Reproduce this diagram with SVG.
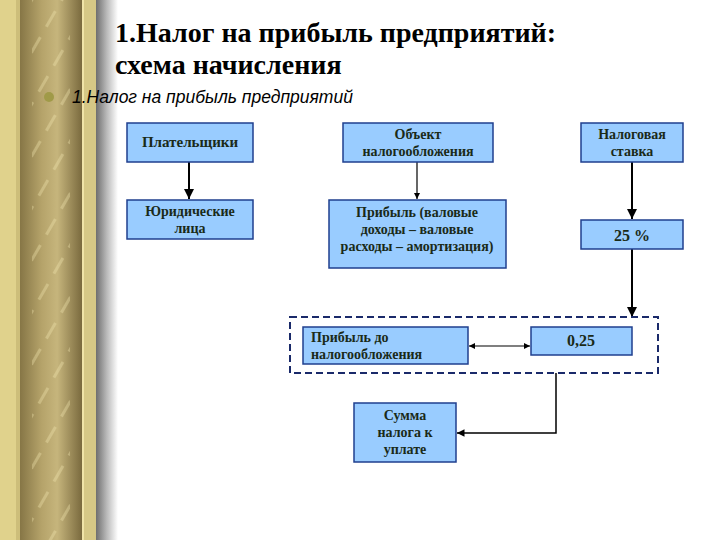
<svg xmlns="http://www.w3.org/2000/svg" width="720" height="540" viewBox="0 0 720 540">
<defs>
<style>
.box{fill:#99CCFF;stroke:#1F3F8F;stroke-width:1.5}
.c{stroke:#000;fill:none}
</style>
<linearGradient id="rod" x1="0" y1="0" x2="1" y2="0">
<stop offset="0" stop-color="#867646"/>
<stop offset="0.35" stop-color="#B5A36A"/>
<stop offset="0.6" stop-color="#C6B57C"/>
<stop offset="1" stop-color="#7A6A3E"/>
</linearGradient>
<linearGradient id="shadow" x1="0" y1="0" x2="1" y2="0">
<stop offset="0" stop-color="#6E6E6E"/>
<stop offset="0.5" stop-color="#BBBBBB"/>
<stop offset="1" stop-color="#FFFFFF"/>
</linearGradient>
<pattern id="streak" width="30" height="26" patternUnits="userSpaceOnUse" patternTransform="rotate(-60)">
<rect x="0" y="0" width="18" height="3" fill="#F4E6B0" opacity="0.35"/>
</pattern>
<marker id="ah" viewBox="0 0 10 10" refX="10" refY="5" markerWidth="5" markerHeight="5" orient="auto-start-reverse">
<path d="M0,0 L10,5 L0,10 z" fill="#000"/>
</marker>
</defs>
<rect width="720" height="540" fill="#FFFFFF"/>
<g id="border">
<rect x="0" y="0" width="96" height="540" fill="#E0D28C"/>
<rect x="16" y="0" width="4" height="540" fill="#CDBE7A"/>
<rect x="20" y="0" width="62" height="540" fill="url(#rod)"/>
<rect x="32" y="0" width="38" height="540" fill="url(#streak)"/>
<rect x="82" y="0" width="2" height="540" fill="#F0E4A8"/>
<rect x="84" y="0" width="12" height="540" fill="#D6C886"/>
<rect x="96" y="0" width="22" height="540" fill="url(#shadow)"/>
</g>
<g id="title" font-family="'Liberation Serif',serif" font-weight="bold" font-size="28" fill="#000">
<text x="115" y="42">1.Налог на прибыль предприятий:</text>
<text x="115" y="74">схема начисления</text>
</g>
<g id="subtitle">
<circle cx="49" cy="97" r="5" fill="#A09A48"/>
<text x="72" y="103" font-family="'Liberation Sans',sans-serif" font-style="italic" font-size="17.5" fill="#000">1.Налог на прибыль предприятий</text>
</g>
<g id="connectors">
<line class="c" x1="189" y1="162" x2="189" y2="199" stroke-width="2" marker-end="url(#ah)"/>
<line class="c" x1="417" y1="162" x2="417" y2="199" stroke-width="1.2" marker-end="url(#ah)"/>
<line class="c" x1="632" y1="162" x2="632" y2="219" stroke-width="2" marker-end="url(#ah)"/>
<line class="c" x1="632" y1="249" x2="632" y2="317" stroke-width="2" marker-end="url(#ah)"/>
<line class="c" x1="469" y1="346" x2="530" y2="346" stroke-width="1.2" marker-start="url(#ah)" marker-end="url(#ah)"/>
<polyline class="c" points="556,373 556,433 457,433" stroke-width="1.5" marker-end="url(#ah)"/>
</g>
<g id="group-box">
<rect x="290" y="317" width="368" height="56" fill="none" stroke="#1A2A6A" stroke-width="2" stroke-dasharray="7,4"/>
</g>
<g font-family="'Liberation Serif',serif" font-weight="bold" font-size="14" fill="#1A2A18" text-anchor="middle">
<g id="payers">
<rect class="box" x="127" y="123" width="126" height="39"/>
<text x="190" y="147" font-size="15">Плательщики</text>
</g>
<g id="legal">
<rect class="box" x="127" y="200" width="126" height="39"/>
<text x="190" y="216">Юридические</text>
<text x="190" y="233">лица</text>
</g>
<g id="object">
<rect class="box" x="343" y="123" width="150" height="39"/>
<text x="418" y="139">Объект</text>
<text x="418" y="156">налогообложения</text>
</g>
<g id="profit">
<rect class="box" x="329" y="200" width="177" height="68"/>
<text x="417" y="217">Прибыль (валовые</text>
<text x="417" y="234">доходы – валовые</text>
<text x="417" y="251">расходы – амортизация)</text>
</g>
<g id="rate">
<rect class="box" x="581" y="123" width="102" height="39"/>
<text x="632" y="139">Налоговая</text>
<text x="632" y="156">ставка</text>
</g>
<g id="rate25">
<rect class="box" x="581" y="220" width="102" height="29"/>
<text x="632" y="241" font-size="16">25 %</text>
</g>
<g id="pretax">
<rect class="box" x="303" y="327" width="165" height="37"/>
<text x="311" y="342" text-anchor="start">Прибыль до</text>
<text x="311" y="359" text-anchor="start">налогообложения</text>
</g>
<g id="coef">
<rect class="box" x="531" y="327" width="101" height="28"/>
<text x="581" y="346" font-size="16">0,25</text>
</g>
<g id="tax">
<rect class="box" x="354" y="403" width="102" height="59"/>
<text x="405" y="420">Сумма</text>
<text x="405" y="437">налога к</text>
<text x="405" y="454">уплате</text>
</g>
</g>
</svg>
